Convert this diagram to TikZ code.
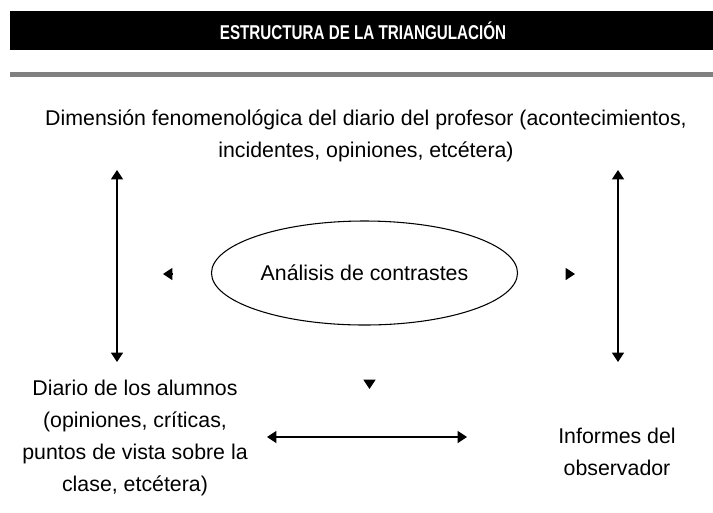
\documentclass[tikz,border=0pt]{standalone}
\usepackage{fontspec}
\setmainfont{Liberation Sans}
\newfontfamily\titlefont[FakeStretch=0.76]{Liberation Sans}
\usetikzlibrary{arrows.meta,shapes.geometric}

\begin{document}
\begin{tikzpicture}[x=0.75pt,y=-0.75pt,line width=0.8pt,
    >={Triangle[width=9pt,length=7pt]},
    txt/.style={align=center,font=\fontsize{16}{24}\selectfont}]
  \useasboundingbox (0,0) rectangle (713,512);

  \fill[black] (10,11) rectangle (713,50);
  \node[text=white,font=\titlefont\bfseries\fontsize{15}{18}\selectfont] (title) at (363,31) {ESTRUCTURA DE LA TRIANGULACIÓN};
  \fill[gray] (10,72) rectangle (713,77);

  \node[txt] (profesor) at (366,136) {Dimensión fenomenológica del diario del profesor (acontecimientos,\\incidentes, opiniones, etcétera)};
  \node[txt,draw,ellipse,minimum width=212pt,minimum height=78pt] (analisis) at (364.5,273) {Análisis de contrastes};
  \node[txt] (alumnos) at (135,437.5) {Diario de los alumnos\\(opiniones, críticas,\\puntos de vista sobre la\\clase, etcétera)};
  \node[txt] (observador) at (617,452) {Informes del\\observador};

  \coordinate (izqarriba) at (117,170);
  \coordinate (izqabajo) at (117,362);
  \coordinate (derarriba) at (618,170);
  \coordinate (derabajo) at (618,362);
  \coordinate (horizizq) at (267,437);
  \coordinate (horizder) at (467,437);
  \draw[<->] (izqarriba) -- (izqabajo);
  \draw[<->] (derarriba) -- (derabajo);
  \draw[<->] (horizizq) -- (horizder);

  % puntas sueltas alrededor de la elipse
  \coordinate (pizq) at (172,274);
  \coordinate (pder) at (566,274);
  \coordinate (pabajo) at (369.5,381);
  \draw[->] (pizq) -- ++(-9,0);
  \draw[->] (pder) -- ++(9,0);
  \draw[->] (pabajo) -- ++(0,8);
\end{tikzpicture}
\end{document}
